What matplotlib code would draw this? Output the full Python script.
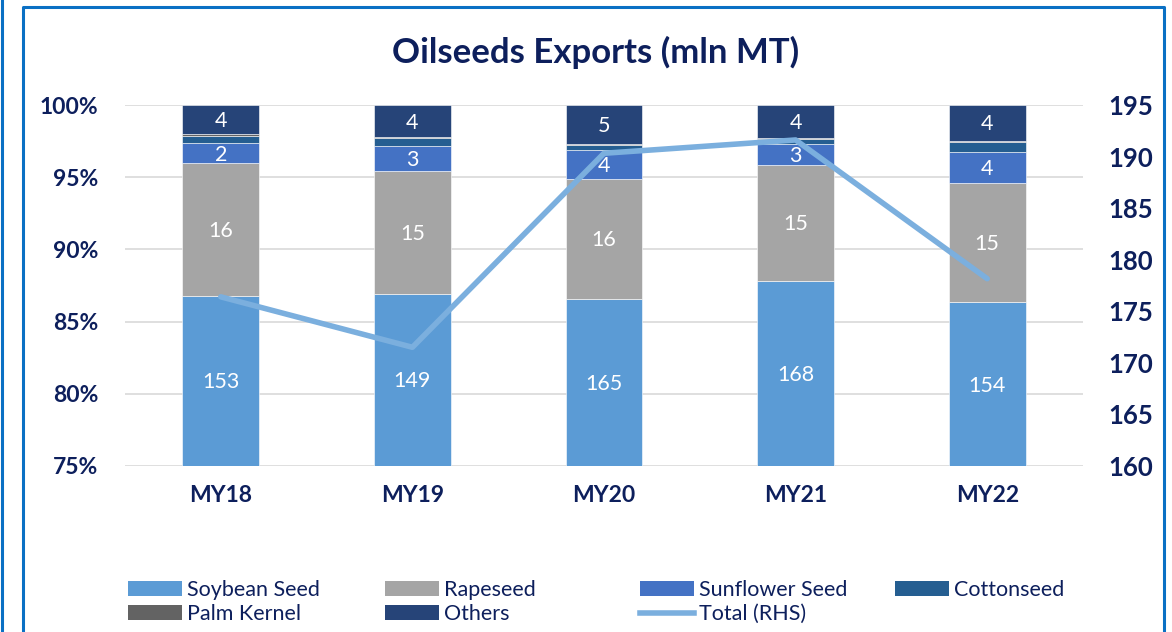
import matplotlib
matplotlib.use("Agg")
import matplotlib.pyplot as plt
from matplotlib.lines import Line2D
from matplotlib.patches import Patch
from matplotlib.ticker import FuncFormatter
import numpy as np

plt.rcParams['font.family'] = ['Lato', 'DejaVu Sans']

years = ["MY18", "MY19", "MY20", "MY21", "MY22"]
soybean = [153.1, 149.1, 164.8, 168.3, 153.8]
rapeseed = [16.2, 14.6, 15.8, 15.4, 14.7]
sunflower = [2.45, 2.97, 3.82, 2.75, 3.9]
cottonseed = [0.9, 0.91, 0.62, 0.66, 1.2]
palm_kernel = [0.15, 0.1, 0.1, 0.1, 0.16]
others = [3.6, 3.83, 5.18, 4.4, 4.4]

series = [
    ("Soybean Seed", soybean, "#5B9BD5", True),
    ("Rapeseed", rapeseed, "#A5A5A5", True),
    ("Sunflower Seed", sunflower, "#4472C4", True),
    ("Cottonseed", cottonseed, "#255E91", False),
    ("Palm Kernel", palm_kernel, "#636363", False),
    ("Others", others, "#264478", True),
]

navy = "#0D1F5C"
line_col = "#7BAFDE"
ymin = 75

total = np.sum([np.array(s[1]) for s in series], axis=0)

fig = plt.figure(figsize=(11.72, 6.32), dpi=100)
ax = fig.add_axes([125 / 1172, 1 - 466 / 632, 958 / 1172, 361 / 632])
x = np.arange(len(years))

bottom = np.zeros(len(years))
for name, vals, col, lab in series:
    pct = np.array(vals) / total * 100
    ax.bar(x, pct, 0.4, bottom=bottom, color=col,
           edgecolor="white", linewidth=0.4, zorder=2)
    if lab:
        for i in range(len(years)):
            lo = max(bottom[i], ymin)
            hi = bottom[i] + pct[i]
            ax.text(x[i], (lo + hi) / 2 - 0.1, str(int(round(vals[i]))),
                    ha="center", va="center", color="white", fontsize=15.5, zorder=5)
    bottom += pct

ax.set_ylim(ymin, 100)
ax.set_xlim(-0.5, 4.5)
ax.set_yticks(np.arange(75, 101, 5))
ax.yaxis.set_major_formatter(FuncFormatter(lambda v, p: f"{v:.0f}%"))
ax.grid(axis="y", color="#D9D9D9", linewidth=1.2, zorder=0)
ax.set_axisbelow(True)
for s in ax.spines.values():
    s.set_visible(False)
ax.tick_params(length=0)
ax.tick_params(axis="y", pad=19)
ax.tick_params(axis="x", pad=14)
ax.set_xticks(x)
ax.set_xticklabels(years)
for t in ax.get_yticklabels():
    t.set_fontweight("bold")
    t.set_fontsize(16.5)
    t.set_color(navy)
for t in ax.get_xticklabels():
    t.set_fontweight("bold")
    t.set_fontsize(16.5)
    t.set_color(navy)

ax2 = ax.twinx()
ax2.plot(x, total, color=line_col, linewidth=4, solid_capstyle="round", zorder=4)
ax2.set_ylim(160, 195)
ax2.set_yticks(np.arange(160, 196, 5))
for s in ax2.spines.values():
    s.set_visible(False)
ax2.tick_params(length=0, pad=18)
for t in ax2.get_yticklabels():
    t.set_fontweight("bold")
    t.set_fontsize(18.5)
    t.set_color(navy)

fig.text(596 / 1172, 1 - 52 / 632, "Oilseeds Exports (mln MT)", ha="center", va="center",
         fontsize=25, fontweight="bold", color=navy)

handles = {name: Patch(facecolor=col) for name, vals, col, lab in series}
handles["Total (RHS)"] = Line2D([0], [0], color=line_col, linewidth=4)
columns = [
    (128, ["Soybean Seed", "Palm Kernel"]),
    (385, ["Rapeseed", "Others"]),
    (640, ["Sunflower Seed", "Total (RHS)"]),
    (895, ["Cottonseed"]),
]
for xpos, names in columns:
    fig.legend([handles[k] for k in names], names, loc="upper left",
               bbox_to_anchor=(xpos / 1172, 1 - 580 / 632), frameon=False,
               fontsize=15.5, labelcolor=navy, handlelength=2.5, handleheight=0.7,
               handletextpad=0.25, labelspacing=0.2, borderpad=0, borderaxespad=0)

# report frame
blue = "#0A70C4"
fig.add_artist(Line2D([2 / 1172, 2 / 1172], [0, 1], color=blue, linewidth=2.2))
fig.add_artist(Line2D([23 / 1172, 23 / 1172, 1164 / 1172, 1164 / 1172],
                      [0, 1 - 7 / 632, 1 - 7 / 632, 0], color=blue, linewidth=2.2))

fig.savefig("out.png", dpi=100)
